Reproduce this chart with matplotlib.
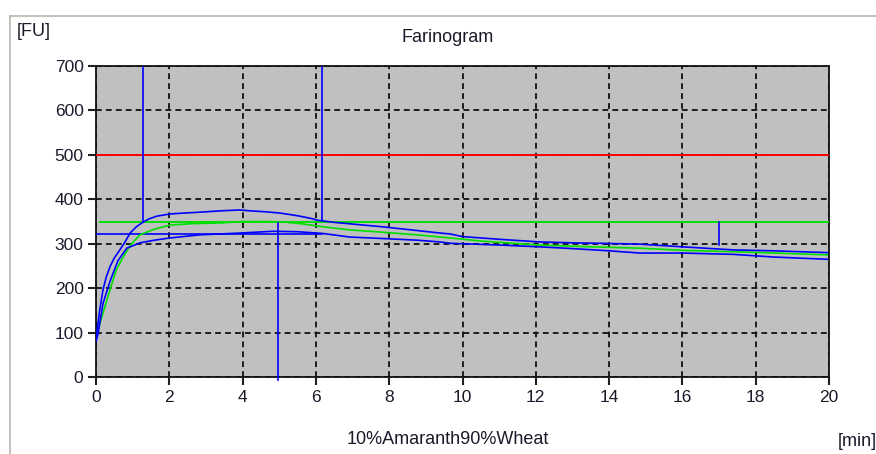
import matplotlib
matplotlib.use("Agg")
import matplotlib.pyplot as plt
from matplotlib.lines import Line2D

# ---- data ----
upper_t = [0.0, 0.02, 0.1, 0.19, 0.28, 0.38, 0.5, 0.65, 0.8, 0.93, 1.1, 1.29, 1.45, 1.66, 2.02, 2.4, 2.84, 3.4, 3.93, 4.2, 4.6, 5.02, 5.5, 5.92, 6.03, 6.5, 7.29, 7.83, 8.5, 9.39, 9.66, 10.0, 11.0, 12.1, 13.0, 13.75, 14.84, 16.0, 17.4, 18.5, 19.95]
upper_v = [85, 99, 150, 196, 225, 248, 268, 286, 305, 324, 338, 349, 356, 362, 367, 369, 371, 374, 376, 374, 372, 369, 363, 356, 353, 348, 342, 338, 332, 324, 322, 316, 310, 304, 302, 301, 299, 293, 286, 284, 280]

lower_t = [0.0, 0.05, 0.19, 0.38, 0.6, 0.84, 1.2, 1.6, 2.02, 2.84, 3.93, 4.83, 5.5, 6.2, 6.93, 8.0, 8.75, 9.39, 9.66, 11.0, 12.1, 13.0, 14.0, 14.84, 16.0, 17.4, 18.5, 19.95]
lower_v = [80, 95, 165, 215, 262, 290, 302, 308, 313, 320, 324, 328, 327, 323, 315, 311, 308, 304, 301, 297, 293, 289, 284, 279, 279, 276, 270, 265]

green_t = [0.0, 0.11, 0.25, 0.38, 0.55, 0.74, 0.95, 1.2, 1.6, 2.02, 2.6, 3.47, 4.0, 4.6, 5.1, 5.6, 6.2, 6.93, 7.8, 8.75, 9.66, 10.5, 12.1, 13.5, 14.84, 16.0, 17.4, 18.5, 19.95]
green_v = [85, 122, 160, 196, 240, 270, 298, 320, 333, 342, 345, 347, 350, 350, 349, 345, 338, 331, 326, 320, 313, 306, 297, 293, 290, 285, 282, 279, 275]

consistency_line = 500   # red reference line [FU]
green_ref = 350          # green reference line
blue_ref = 322           # blue horizontal marker
dev_time = 1.29          # vertical marker
stab_end = 6.18          # vertical marker
peak_mark = 4.97         # vertical marker down to 0
spike_t = 17.0
spike_lo, spike_hi = 297, 350

x_ticks = list(range(0, 21, 2))
y_ticks = list(range(0, 701, 100))

BLUE = "#0000ff"
GREEN = "#00e000"
RED = "#ff0000"
TXT = "#1a1a2a"

plt.rcParams['font.family'] = ['Liberation Sans', 'DejaVu Sans']

fig = plt.figure(figsize=(8.76, 4.54), dpi=100)
fig.patch.set_facecolor("white")
ax = fig.add_axes([96/876, 1-377/454, (829-96)/876, (377-66)/454])
ax.set_facecolor("#c0c0c0")
ax.set_xlim(0, 20)
ax.set_ylim(0, 700)
ax.set_xticks(x_ticks)
ax.set_yticks(y_ticks)
ax.tick_params(axis='both', length=6, width=1.5, color='#202020', pad=3,
               labelsize=12.5, labelcolor=TXT, direction='out')
ax.grid(True, color='#101010', linestyle=(0, (3.2, 2.3)), linewidth=1.3)
ax.set_axisbelow(False)
for s in ax.spines.values():
    s.set_color('#202020')
    s.set_linewidth(1.4)

lw = 1.2
ax.axhline(consistency_line, color=RED, lw=1.4, zorder=3)
ax.plot([0.11, 20], [green_ref, green_ref], color=GREEN, lw=1.4, zorder=3)
ax.plot([0, stab_end], [blue_ref, blue_ref], color=BLUE, lw=lw, zorder=4)

ax.plot(green_t, green_v, color=GREEN, lw=lw, zorder=4)
ax.plot(upper_t, upper_v, color=BLUE, lw=lw, zorder=5)
ax.plot(lower_t, lower_v, color=BLUE, lw=lw, zorder=5)

ax.plot([dev_time, dev_time], [349, 700], color=BLUE, lw=lw, zorder=5)
ax.plot([stab_end, stab_end], [353, 700], color=BLUE, lw=lw, zorder=5)
ax.plot([peak_mark, peak_mark], [347, -7], color=BLUE, lw=lw, zorder=5, clip_on=False)
ax.plot([spike_t, spike_t], [spike_lo, spike_hi], color=BLUE, lw=lw, zorder=5)

# texts
fig.text(17/876, 1-32/454, "[FU]", fontsize=13, color=TXT, va='center', ha='left')
fig.text(448/876, 1-38/454, "Farinogram", fontsize=13, color=TXT, va='center', ha='center')
fig.text(448/876, 1-439/454, "10%Amaranth90%Wheat", fontsize=13, color=TXT, va='center', ha='center')
fig.text(838/876, 1-442/454, "[min]", fontsize=13, color=TXT, va='center', ha='left')

# outer frame (partially visible)
fig.add_artist(Line2D([10/876, 1.0], [1-16/454, 1-16/454], color='#b8b8ae', lw=1.2))
fig.add_artist(Line2D([10/876, 10/876], [1-16/454, 0], color='#b8b8ae', lw=1.2))

fig.savefig("out.png", dpi=100)
